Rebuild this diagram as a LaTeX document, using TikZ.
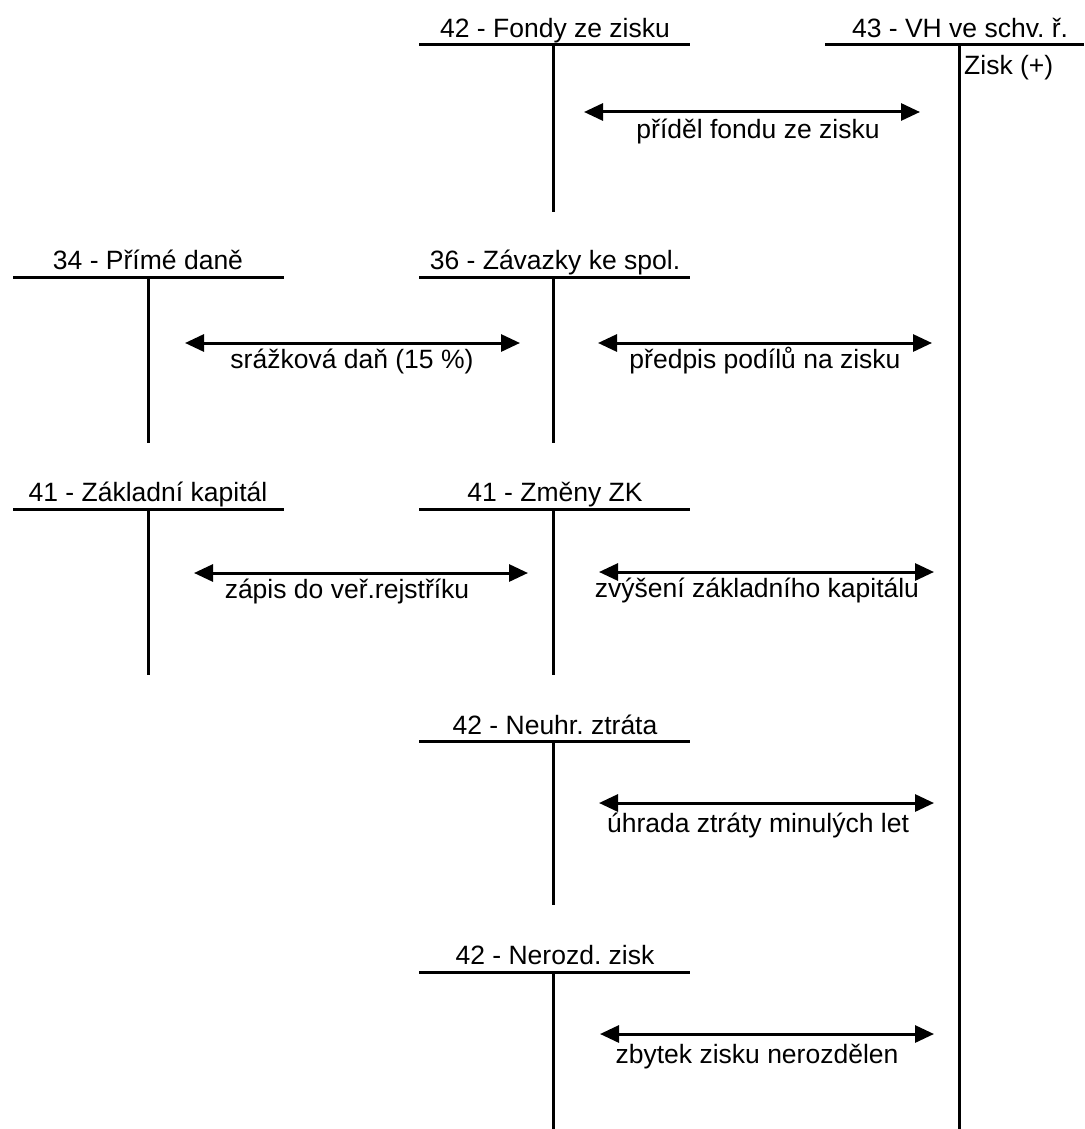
\documentclass[tikz,border=0pt]{standalone}
\usepackage{fontspec}
\setmainfont{Liberation Sans}
\usetikzlibrary{arrows.meta}
\frenchspacing
\begin{document}
\begin{tikzpicture}[x=1pt,y=-1pt,
  lbl/.style={anchor=base,inner sep=0pt,font=\fontsize{26.5}{30}\selectfont},
  tline/.style={line width=3pt},
  flow/.style={line width=3pt,{Triangle[length=19pt,width=17pt]}-{Triangle[length=19pt,width=17pt]}}]
\useasboundingbox (0,0) rectangle (1084,1129);

% 42 - Fondy ze zisku
\node[lbl] (fondyT) at (555,38) {42 - Fondy ze zisku};
\coordinate (fondyL) at (419,45); \coordinate (fondyR) at (690,45);
\coordinate (fondyA) at (553,45); \coordinate (fondyB) at (553,212);
\draw[tline] (fondyL) -- (fondyR) (fondyA) -- (fondyB);

% 43 - VH ve schv. r.
\node[lbl] (vhT) at (960,38) {43 - VH ve schv. ř.};
\coordinate (vhL) at (825,45); \coordinate (vhR) at (1084,45);
\coordinate (vhA) at (959,45); \coordinate (vhB) at (959,1130);
\draw[tline] (vhL) -- (vhR) (vhA) -- (vhB);
\node[lbl,anchor=base west] (vhZ) at (964,75) {Zisk (+)};

% 34 - Prime dane
\node[lbl] (danT) at (148,269) {34 - Přímé daně};
\coordinate (danL) at (13,277); \coordinate (danR) at (284,277);
\coordinate (danA) at (148,277); \coordinate (danB) at (148,443);
\draw[tline] (danL) -- (danR) (danA) -- (danB);

% 36 - Zavazky ke spol.
\node[lbl] (zavT) at (555,269) {36 - Závazky ke spol.};
\coordinate (zavL) at (419,277); \coordinate (zavR) at (690,277);
\coordinate (zavA) at (553,277); \coordinate (zavB) at (553,443);
\draw[tline] (zavL) -- (zavR) (zavA) -- (zavB);

% 41 - Zakladni kapital
\node[lbl] (zkT) at (148,501) {41 - Základní kapitál};
\coordinate (zkL) at (13,509); \coordinate (zkR) at (284,509);
\coordinate (zkA) at (148,509); \coordinate (zkB) at (148,675);
\draw[tline] (zkL) -- (zkR) (zkA) -- (zkB);

% 41 - Zmeny ZK
\node[lbl] (zmT) at (555,501) {41 - Změny ZK};
\coordinate (zmL) at (419,509); \coordinate (zmR) at (690,509);
\coordinate (zmA) at (553,509); \coordinate (zmB) at (553,675);
\draw[tline] (zmL) -- (zmR) (zmA) -- (zmB);

% 42 - Neuhr. ztrata
\node[lbl] (neT) at (555,734) {42 - Neuhr. ztráta};
\coordinate (neL) at (419,741); \coordinate (neR) at (690,741);
\coordinate (neA) at (553,741); \coordinate (neB) at (553,905);
\draw[tline] (neL) -- (neR) (neA) -- (neB);

% 42 - Nerozd. zisk
\node[lbl] (nzT) at (555,964) {42 - Nerozd. zisk};
\coordinate (nzL) at (419,972); \coordinate (nzR) at (690,972);
\coordinate (nzA) at (553,972); \coordinate (nzB) at (553,1130);
\draw[tline] (nzL) -- (nzR) (nzA) -- (nzB);

% flows between the accounts
\coordinate (f1a) at (584,112); \coordinate (f1b) at (920,112);
\draw[flow] (f1a) -- (f1b);
\node[lbl] (f1t) at (758,139) {příděl fondu ze zisku};

\coordinate (f2a) at (185,343); \coordinate (f2b) at (520,343);
\draw[flow] (f2a) -- (f2b);
\node[lbl] (f2t) at (352,368) {srážková daň (15 \%)};

\coordinate (f3a) at (598,343); \coordinate (f3b) at (932,343);
\draw[flow] (f3a) -- (f3b);
\node[lbl] (f3t) at (765,368) {předpis podílů na zisku};

\coordinate (f4a) at (194,573); \coordinate (f4b) at (528,573);
\draw[flow] (f4a) -- (f4b);
\node[lbl] (f4t) at (347,598) {zápis do veř.rejstříku};

\coordinate (f5a) at (599,572); \coordinate (f5b) at (934,572);
\draw[flow] (f5a) -- (f5b);
\node[lbl] (f5t) at (757,597) {zvýšení základního kapitálu};

\coordinate (f6a) at (599,803); \coordinate (f6b) at (934,803);
\draw[flow] (f6a) -- (f6b);
\node[lbl] (f6t) at (758,832) {úhrada ztráty minulých let};

\coordinate (f7a) at (600,1034); \coordinate (f7b) at (934,1034);
\draw[flow] (f7a) -- (f7b);
\node[lbl] (f7t) at (757,1063) {zbytek zisku nerozdělen};
\end{tikzpicture}
\end{document}
